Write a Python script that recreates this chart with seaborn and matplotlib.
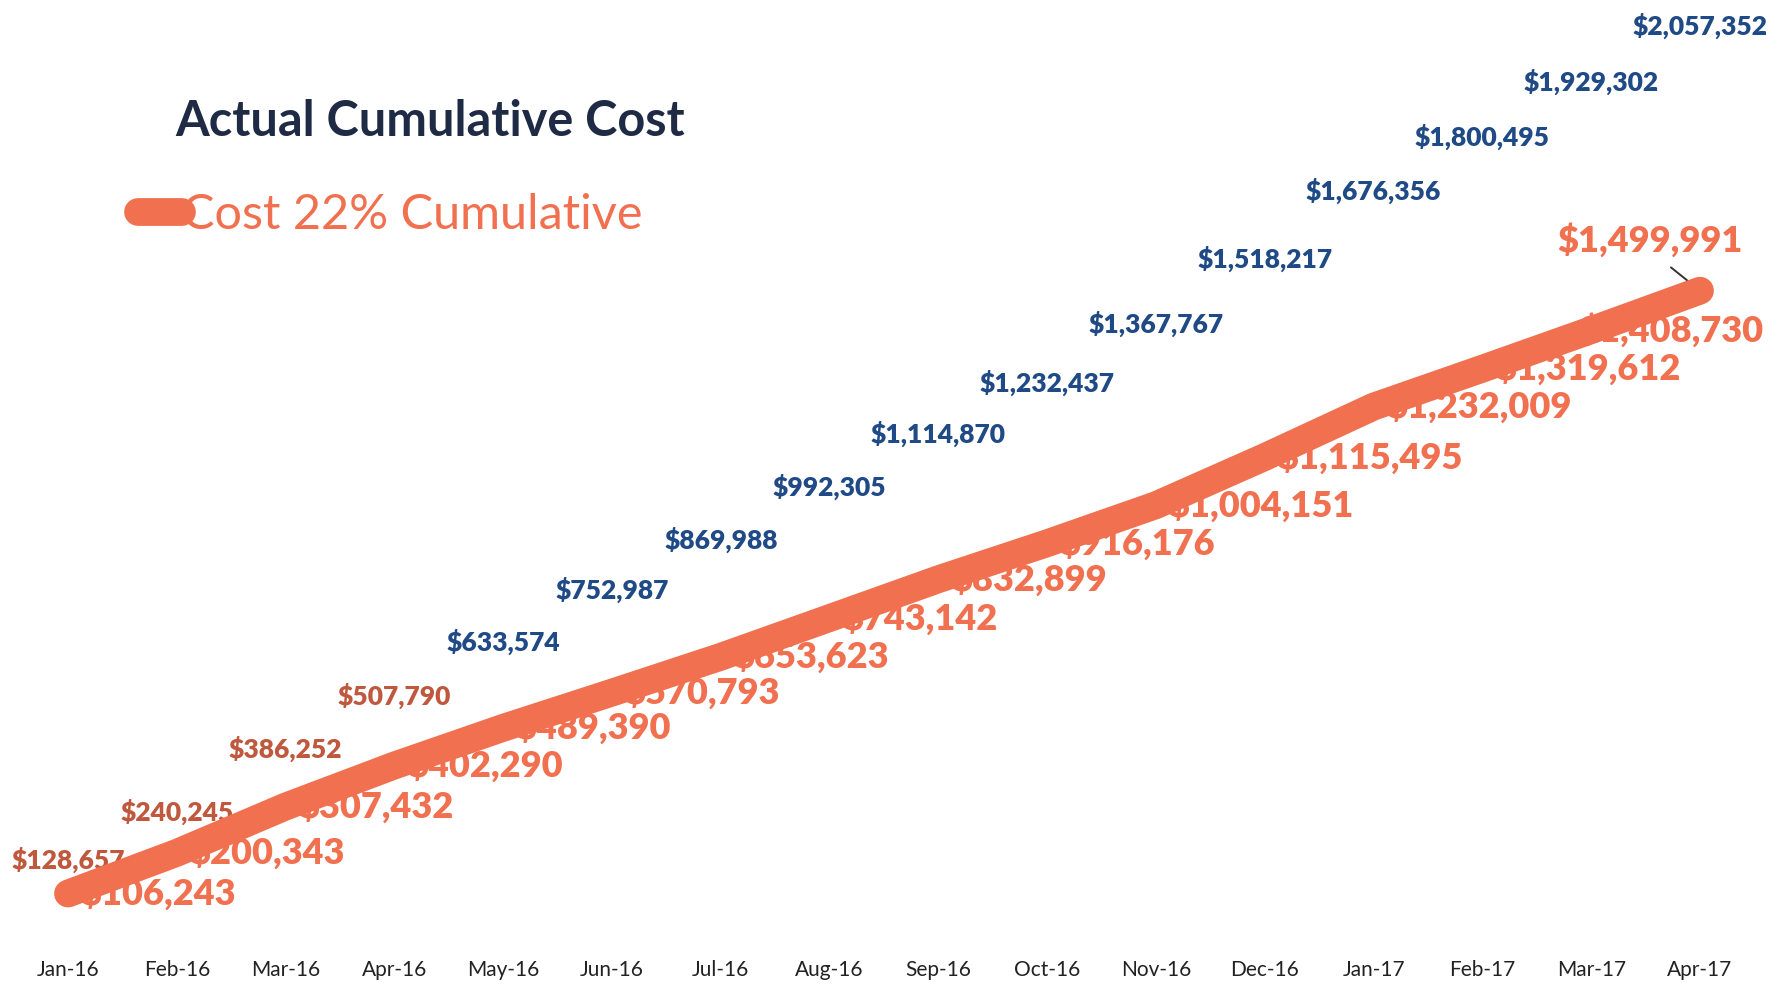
import seaborn as sns
import matplotlib.pyplot as plt
import pandas as pd

months = ["Jan-16", "Feb-16", "Mar-16", "Apr-16", "May-16", "Jun-16", "Jul-16", "Aug-16",
          "Sep-16", "Oct-16", "Nov-16", "Dec-16", "Jan-17", "Feb-17", "Mar-17", "Apr-17"]
actual = [106243, 200343, 307432, 402290, 489390, 570793, 653623, 743142,
          832899, 916176, 1004151, 1115495, 1232009, 1319612, 1408730, 1499991]
planned = [128657, 240245, 386252, 507790, 633574, 752987, 869988, 992305,
           1114870, 1232437, 1367767, 1518217, 1676356, 1800495, 1929302, 2057352]

ORANGE = "#F0704F"
BLUE = "#1F4A85"
BROWN = "#C0583E"

sns.set_style("white")
plt.rcParams['font.family'] = ['Lato', 'DejaVu Sans']

df = pd.DataFrame({"idx": range(len(months)), "month": months,
                   "actual": actual, "planned": planned})

fig = plt.figure(figsize=(17.74, 9.86), dpi=100)
ax = fig.add_axes([0, 0, 1, 1])

sns.lineplot(data=df, x="idx", y="actual", ax=ax, color=ORANGE, linewidth=20,
             solid_capstyle="round", label="Cost 22% Cumulative", zorder=3)

# actual labels (sit under the thick line, to the right of each point)
last = len(actual) - 1
for i, v in enumerate(actual[:-1]):
    dx = -9 if i == last - 1 else 9
    ax.annotate(f"${v:,}", (i, v), xytext=(dx, 0), textcoords="offset points",
                ha="left", va="center", fontsize=26, fontweight="heavy",
                color=ORANGE, zorder=2)
ax.annotate(f"${actual[-1]:,}", (last, actual[-1]), xytext=(-36, 36),
            textcoords="offset points", ha="center", va="center", fontsize=26,
            fontweight="heavy", color=ORANGE, zorder=2,
            arrowprops=dict(arrowstyle="-", color="#333333", lw=1.4,
                            relpos=(0.55, 0.0), shrinkA=7, shrinkB=11))

# planned labels, no line drawn
for i, v in enumerate(planned):
    c = BROWN if i < 4 else BLUE
    ax.annotate(f"${v:,}", (i, v), xytext=(0, 17), textcoords="offset points",
                ha="center", va="center", fontsize=19, fontweight="heavy",
                color=c, zorder=1)

ax.set_xlim(-0.625, 15.68)
ax.set_ylim(-107500, 2172000)
ax.set_xticks(df["idx"])
ax.set_xticklabels(months, fontsize=15, color="#222222")
ax.tick_params(axis="x", length=0, pad=-19)
ax.set_yticks([])
ax.set_xlabel("")
ax.set_ylabel("")
sns.despine(ax=ax, left=True, bottom=True)

fig.text(175 / 1774, 1 - 121 / 986, "Actual Cumulative Cost", fontsize=35,
         fontweight="bold", color="#1F2A44", ha="left", va="center")

leg = ax.legend(loc="center left", bbox_to_anchor=(114 / 1774, 1 - 215 / 986),
                frameon=False, fontsize=35, handlelength=0.9, handletextpad=0.0,
                labelcolor=ORANGE, borderpad=0)
for h in leg.get_lines():
    h.set_linewidth(20)

fig.savefig("out.png", dpi=100)
